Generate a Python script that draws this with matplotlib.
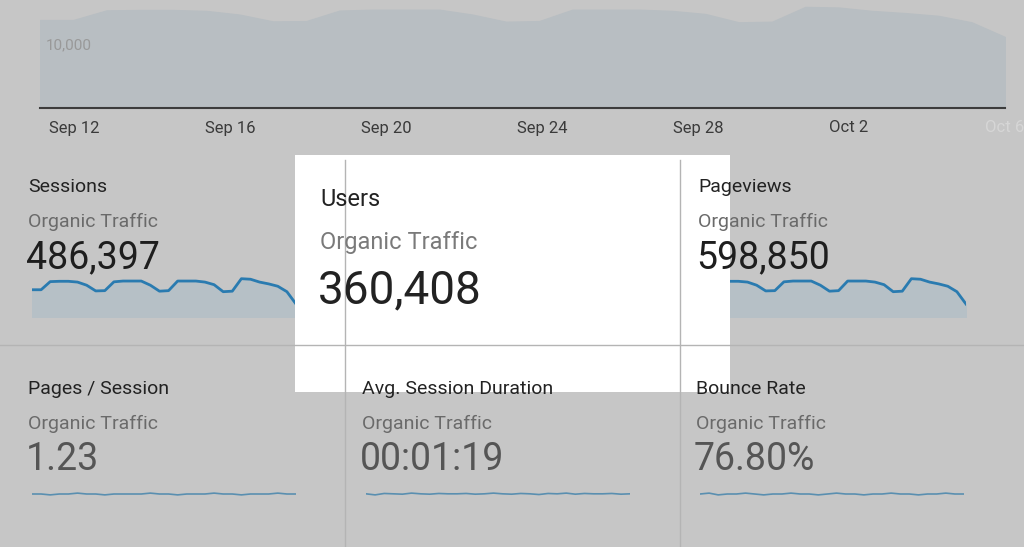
import numpy as np
import matplotlib.pyplot as plt
from matplotlib.patches import Rectangle

plt.rcParams['font.family'] = 'Roboto'

# ---- data ----
date_ticks = ['Sep 12', 'Sep 16', 'Sep 20', 'Sep 24', 'Sep 28', 'Oct 2', 'Oct 6']
users_daily = [11400, 11400, 12650, 12700, 12700, 12580, 12100, 11220, 11260, 12620, 12740,
               12740, 12740, 12100, 11180, 11260, 12740, 12740, 12740, 12580, 12180, 11100,
               11180, 13100, 13020, 12580, 12300, 11940, 11100, 9200]
sessions_daily = [int(v * 1.35) for v in users_daily]
pageviews_daily = [int(v * 1.66) for v in users_daily]
pages_per_session = [1.23, 1.23, 1.22, 1.23, 1.23, 1.24, 1.23, 1.23, 1.22, 1.23, 1.23, 1.23,
                     1.23, 1.24, 1.23, 1.23, 1.22, 1.23, 1.23, 1.23, 1.24, 1.23, 1.23, 1.22,
                     1.23, 1.23, 1.23, 1.24, 1.23, 1.23]
avg_duration = [79, 76, 80, 79, 78, 81, 79, 78, 80, 79, 79, 80, 78, 79, 81, 79, 78, 80, 79, 77,
                80, 79, 81, 78, 80, 79, 79, 80, 78, 79]
bounce_rate = [76.8, 76.9, 76.7, 76.8, 76.8, 76.9, 76.8, 76.7, 76.8, 76.8, 76.9, 76.8, 76.8,
               76.7, 76.8, 76.9, 76.8, 76.8, 76.7, 76.8, 76.8, 76.9, 76.8, 76.8, 76.7, 76.8,
               76.8, 76.9, 76.8, 76.8]

W, H = 1024, 547
BG = '#c6c6c6'
fig = plt.figure(figsize=(W / 100, H / 100), dpi=100, facecolor=BG)

def box(px, py, pw, ph):
    # pixel box (top-left origin) -> figure fractions
    return [px / W, 1 - (py + ph) / H, pw / W, ph / H]

def ftext(px, py, s, **kw):
    fig.text(px / W, 1 - py / H, s, va='center', ha='left', **kw)

# ---- top overview chart (dimmed) ----
ax_top = fig.add_axes(box(40, 0, 965, 108))
ax_top.set_facecolor(BG)
ax_top.fill_between(range(len(users_daily)), users_daily, 0, color='#b8bec2')
ax_top.set_xlim(0, len(users_daily) - 1)
ax_top.set_ylim(0, 14000)
ax_top.set_yticks([])
ax_top.set_xticks([])
for s in ['top', 'right', 'left']:
    ax_top.spines[s].set_visible(False)
ax_top.spines['bottom'].set_color('#3c3c3c')
ax_top.spines['bottom'].set_linewidth(1.5)
ftext(46, 45, '10,000', fontsize=11, color='#999999')
for i, lab in enumerate(date_ticks):
    col = '#3a3a3a' if i < 6 else '#d6d6d6'
    ftext(49 + i * 156, 128, lab, fontsize=12, color=col)

# card dividers
for xp in [345, 680]:
    fig.add_artist(plt.Line2D([xp / W] * 2, [1 - 160 / H, 0], color='#b4b4b4', lw=1))
fig.add_artist(plt.Line2D([0, 1], [1 - 345 / H] * 2, color='#b4b4b4', lw=1))

# ---- dimmed cards ----
def card(px, py, title, value, series, flat=False):
    ftext(px, py, title, fontsize=14, color='#222222')
    ftext(px, py + 35, 'Organic Traffic', fontsize=14, color='#6a6a6a')
    ftext(px - 2, py + 71, value, fontsize=27, color='#1e1e1e' if not flat else '#555555')
    ax = fig.add_axes(box(px + 4, py + 90, 264, 40 if not flat else 30))
    ax.set_facecolor('none')
    ax.axis('off')
    x = range(len(series))
    if flat:
        ax.plot(x, series, color='#5a8fb0', lw=1.2)
        lo, hi = min(series), max(series)
        ax.set_ylim(lo - (hi - lo) * 8, hi + (hi - lo) * 8)
    else:
        ax.fill_between(x, series, 0, color='#b6c0c6')
        ax.plot(x, series, color='#2a7bb0', lw=2)
        ax.set_ylim(min(series) * 0.0 + max(series) * 0.55, max(series) * 1.02)
    ax.set_xlim(0, len(series) - 1)

card(28, 187, 'Sessions', '486,397', sessions_daily)
card(698, 187, 'Pageviews', '598,850', pageviews_daily)
card(28, 389, 'Pages / Session', '1.23', pages_per_session, flat=True)
card(362, 389, 'Avg. Session Duration', '00:01:19', avg_duration, flat=True)
card(696, 389, 'Bounce Rate', '76.80%', bounce_rate, flat=True)

# ---- highlighted Users card ----
fig.add_artist(Rectangle((295 / W, 1 - 392 / H), 435 / W, 237 / H,
                         transform=fig.transFigure, facecolor='white', edgecolor='none'))
ftext(320, 199, 'Users', fontsize=17, color='#222222')
ftext(320, 242, 'Organic Traffic', fontsize=17, color='#7a7a7a')
ftext(318, 290, '360,408', fontsize=33, color='#222222')
ax_u = fig.add_axes(box(325, 318, 380, 45))
ax_u.axis('off')
xs = range(len(users_daily))
ax_u.fill_between(xs, users_daily, 0, color='#e3f0f8')
ax_u.plot(xs, users_daily, color='#168ac8', lw=2.2)
ax_u.set_xlim(0, len(users_daily) - 1)
ax_u.set_ylim(8900, 13300)

fig.savefig('out.png', dpi=100, facecolor=BG)
